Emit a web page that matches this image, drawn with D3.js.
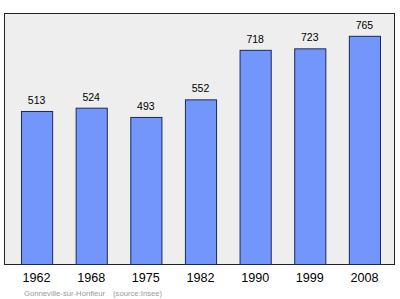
<!DOCTYPE html>
<html>
<head>
<meta charset="utf-8">
<script src="https://cdn.jsdelivr.net/npm/d3@7"></script>
<style>
  body { margin: 0; background: #fff; }
  text { font-family: "Liberation Sans", Arial, sans-serif; }
</style>
</head>
<body>
<div id="chart"></div>
<script>
(function() {

  const years = ['1962', '1968', '1975', '1982', '1990', '1999', '2008'];
  const population = [513, 524, 493, 552, 718, 723, 765];

  const size = { x: 400, y: 299 };
  const frame = { x0: 4, x1: 394, y0: 13, y1: 264 };

  let svg = d3.select('#chart')
    .append('svg')
    .attr('width', size.x)
    .attr('height', size.y);

  svg.append('rect')
    .attr('x', frame.x0 + .5)
    .attr('y', frame.y0 + .5)
    .attr('width', frame.x1 - frame.x0)
    .attr('height', frame.y1 - frame.y0)
    .attr('fill', '#eeeeee')
    .attr('stroke', '#222')
    .attr('stroke-width', 1);

  let xScale = d3.scaleBand()
    .domain(years)
    .range([21, 380])
    .paddingInner(0.43)
    .paddingOuter(0);

  let yScale = d3.scaleLinear()
    .domain([0, d3.max(population) * 1.1])
    .range([frame.y1, frame.y0]);

  let bars = svg.append('g')
    .selectAll('.bar')
    .data(years.map((y, i) => ({ year: y, value: population[i] })));

  bars.enter()
    .append('rect')
      .attr('class', 'bar')
      .attr('x', d => xScale(d.year) + .5)
      .attr('y', d => yScale(d.value) + .5)
      .attr('width', xScale.bandwidth())
      .attr('height', d => frame.y1 - yScale(d.value))
      .attr('fill', '#7396fd')
      .attr('stroke', '#1a2a55')
      .attr('stroke-width', 1);

  bars.enter()
    .append('text')
      .attr('x', d => xScale(d.year) + xScale.bandwidth() / 2)
      .attr('y', d => yScale(d.value) - 7)
      .attr('text-anchor', 'middle')
      .attr('font-size', 10.5)
      .attr('fill', '#000')
      .text(d => d.value);

  // axe des années, sans ligne ni graduations
  let xAxis = svg.append('g')
    .attr('transform', `translate(0, ${frame.y1})`)
    .call(d3.axisBottom(xScale).tickSize(0).tickPadding(9));
  xAxis.select('.domain').remove();
  xAxis.selectAll('text')
    .attr('font-size', 12.6)
    .attr('font-family', '"Liberation Sans", Arial, sans-serif')
    .attr('fill', '#000');

  svg.append('text')
    .attr('x', 24)
    .attr('y', 295.5)
    .attr('font-size', 7.7)
    .attr('fill', '#999')
    .text('Gonneville-sur-Honfleur');
  svg.append('text')
    .attr('x', 113)
    .attr('y', 295.5)
    .attr('font-size', 7.7)
    .attr('fill', '#999')
    .text('(source:Insee)');
}());
</script>
</body>
</html>
